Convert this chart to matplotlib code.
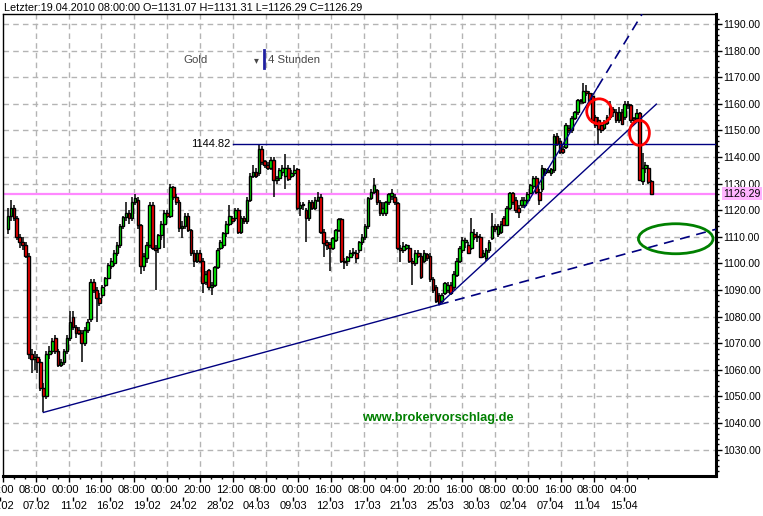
import matplotlib
matplotlib.use("Agg")
import matplotlib.pyplot as plt
from matplotlib.patches import Ellipse
from matplotlib.transforms import blended_transform_factory
import numpy as np

W, H = 763, 516

# 4h candles, gold, 03.02.2010 - 19.04.2010
opens = [1113, 1118, 1121, 1117, 1110, 1108, 1107, 1103, 1066, 1064, 1065, 1063, 1053, 1050, 1066, 1067, 1072, 1067, 1062, 1063,
         1067, 1072, 1080, 1076, 1075, 1074, 1070, 1075, 1079, 1093, 1090, 1087, 1088, 1092, 1094.5, 1099, 1100, 1104, 1107, 1114,
         1117.5, 1119, 1117, 1123, 1124, 1114.5, 1099, 1102, 1107, 1122, 1106, 1106, 1110.7, 1115, 1119, 1118, 1128.7, 1125, 1123, 1113.3,
         1114, 1118, 1112.5, 1104, 1101, 1104, 1101, 1093, 1097.5, 1091, 1092, 1098.6, 1106, 1107, 1111.4, 1115, 1117, 1117, 1120, 1112,
         1117, 1116, 1124, 1133, 1134.4, 1134, 1143, 1138.5, 1137, 1136, 1139, 1131.4, 1132, 1134.5, 1133, 1136, 1133, 1134, 1135.5, 1121,
         1122, 1120, 1117, 1123, 1121, 1124, 1125, 1112, 1108, 1107.5, 1106, 1109, 1112.5, 1116.6, 1101, 1101, 1102.6, 1104, 1104, 1105,
         1108, 1110, 1114, 1124.6, 1127, 1127.6, 1123, 1119, 1119, 1123, 1125.5, 1125, 1122.7, 1106, 1105, 1106, 1106, 1101, 1100, 1104,
         1103, 1101, 1103.5, 1103, 1094, 1091, 1088, 1086, 1089, 1090, 1092, 1091, 1095.7, 1101, 1105, 1108, 1107, 1106, 1111, 1110,
         1110, 1103, 1102, 1105, 1109.6, 1114, 1111, 1112, 1117, 1114.5, 1121, 1126.5, 1124, 1121, 1122, 1122, 1124, 1126.5, 1129, 1132,
         1127, 1128, 1134, 1134.5, 1134, 1135, 1148, 1146, 1143, 1143.7, 1151, 1150, 1154.7, 1157, 1161.4, 1160.7, 1165, 1164, 1163, 1155,
         1154, 1152, 1151, 1153, 1155, 1158, 1157, 1154, 1157, 1155, 1160, 1159.5, 1154.6, 1154.6, 1156.5, 1131, 1136, 1136, 1131.07]
highs = [1121, 1124, 1122, 1118, 1111, 1110, 1108, 1104, 1068, 1067, 1066, 1064, 1055, 1067, 1069, 1072, 1073, 1068, 1064, 1068,
         1073, 1082, 1082, 1077, 1076, 1075, 1076, 1079, 1094, 1094, 1091, 1089, 1092, 1095, 1100, 1102, 1105, 1108, 1115, 1118,
         1123, 1120, 1125, 1126, 1125, 1115, 1104, 1108, 1123, 1123, 1107, 1111, 1116, 1120, 1120, 1130, 1129, 1126, 1124, 1116,
         1119, 1119, 1113, 1105, 1105, 1105, 1102, 1097, 1098, 1093, 1099, 1106, 1109, 1112, 1116, 1122, 1118, 1121, 1121, 1118,
         1118, 1125, 1134, 1137, 1136, 1144.82, 1144, 1139, 1138, 1140, 1140, 1133, 1136, 1137, 1141, 1137, 1135, 1137, 1136, 1123,
         1123, 1121, 1124, 1124, 1125, 1127, 1126, 1113, 1109, 1108, 1110, 1113, 1117, 1117, 1102, 1103, 1105, 1106, 1105, 1108.5,
         1111, 1115, 1125, 1128, 1132, 1128, 1124, 1123, 1123.5, 1126.5, 1128, 1126, 1123, 1107, 1108, 1107.5, 1107, 1102, 1105, 1105,
         1104, 1105, 1104, 1104, 1095, 1092, 1089, 1089, 1093, 1093, 1093, 1097, 1102, 1106.5, 1110, 1109.5, 1108, 1117, 1113, 1112,
         1111, 1105, 1106, 1109, 1119, 1115, 1115, 1116, 1118, 1121.5, 1127, 1127, 1125, 1122, 1125, 1125, 1127, 1130, 1133, 1133,
         1128, 1137, 1136, 1136, 1136, 1148.5, 1149, 1147, 1144, 1153, 1152, 1155.5, 1157.5, 1162, 1162, 1168, 1167, 1165, 1164, 1156,
         1155, 1153, 1154, 1156, 1161, 1159, 1158, 1159, 1158, 1161, 1161, 1160, 1155, 1158, 1157, 1141.5, 1138, 1137, 1131.31]
lows = [1111, 1116, 1116, 1109, 1106, 1105, 1102, 1064, 1059, 1060, 1059, 1052, 1044, 1049, 1064, 1066, 1066, 1061, 1061, 1062,
        1066, 1071, 1075, 1072, 1073, 1063, 1069, 1074, 1078, 1089, 1078, 1084, 1087, 1091, 1094, 1098, 1099, 1103, 1106, 1113,
        1116, 1115, 1116, 1122, 1113, 1096, 1097, 1100, 1106, 1105, 1090, 1104, 1109, 1106, 1117, 1117, 1124, 1122, 1112, 1109.6,
        1113, 1112, 1103, 1098.6, 1100, 1100, 1089, 1092, 1090, 1088, 1091, 1098, 1105, 1106, 1110, 1114, 1115, 1116, 1111, 1111,
        1115, 1115, 1123, 1132, 1132, 1133, 1137, 1136, 1135, 1135, 1125, 1130, 1131, 1133, 1128, 1131, 1132, 1133, 1120, 1118,
        1120, 1108, 1116, 1120, 1120, 1123, 1111, 1102.4, 1105, 1097, 1105, 1108, 1112, 1100, 1098, 1099, 1102, 1103, 1100, 1104,
        1107, 1109, 1113, 1124, 1126, 1122, 1118, 1118, 1118, 1122, 1124, 1122, 1105, 1100.5, 1104, 1105, 1100, 1092, 1099, 1102,
        1094, 1100, 1101, 1093, 1089, 1085, 1084.5, 1085, 1088, 1089, 1088, 1090, 1095, 1100, 1104, 1106, 1103.5, 1105, 1109, 1108,
        1102, 1102, 1101, 1104, 1109, 1112, 1110, 1111, 1114, 1114, 1120, 1122, 1119, 1117, 1121, 1121, 1123, 1126, 1128, 1126,
        1122, 1127, 1133, 1134, 1133, 1134, 1144, 1141, 1141, 1143, 1149, 1149, 1154, 1156, 1160, 1160, 1163, 1160.5, 1153, 1151,
        1144.6, 1149, 1150, 1152, 1154, 1155, 1153, 1153, 1152, 1154, 1158, 1153, 1152, 1154, 1131, 1129.5, 1134, 1130, 1126.29]
closes = [1118, 1121, 1117, 1110, 1108, 1107, 1103, 1066, 1064, 1065, 1063, 1053, 1050, 1066, 1067, 1071, 1067, 1062, 1063, 1067,
          1072, 1078, 1076, 1074, 1074, 1070, 1075, 1078, 1093, 1090, 1087, 1085, 1091, 1094.5, 1099.4, 1101, 1104, 1107, 1114, 1117.5,
          1119, 1117, 1123, 1124.5, 1114.5, 1099, 1103, 1107, 1122, 1106, 1105, 1110.7, 1115, 1119, 1118, 1128.7, 1125, 1123, 1113.3, 1114,
          1118, 1112.5, 1104, 1101, 1104, 1101, 1092.6, 1096, 1091, 1092, 1098.6, 1105, 1108, 1111.4, 1115, 1118, 1116, 1120, 1112, 1117,
          1116, 1124, 1133, 1134.4, 1133, 1143, 1138, 1137, 1136, 1139, 1131.4, 1132, 1135, 1136, 1136, 1131.7, 1134, 1135, 1121, 1122,
          1122, 1117, 1123, 1121, 1124, 1125, 1112, 1107.7, 1107, 1106, 1109.5, 1112.5, 1116.6, 1101, 1100.5, 1102.6, 1104, 1104.5, 1102, 1108,
          1110, 1114, 1124.6, 1127, 1129.5, 1123, 1119, 1121, 1123, 1126, 1126.5, 1123, 1106, 1105, 1106.5, 1107, 1101, 1100, 1104, 1103,
          1095, 1104, 1102, 1094, 1090, 1086, 1085, 1088, 1092.6, 1092, 1089, 1096, 1101, 1105.8, 1109, 1109, 1104, 1112, 1110, 1110.5,
          1102.4, 1104, 1105, 1108, 1114, 1113, 1114, 1115, 1114.5, 1121, 1126.5, 1123, 1120, 1119.5, 1124, 1124, 1126, 1129.5, 1132, 1127,
          1124, 1136, 1135.5, 1135, 1135.5, 1148, 1145, 1142, 1142, 1152, 1150, 1154.7, 1157, 1161.4, 1161, 1165, 1164, 1161, 1154, 1152,
          1150.7, 1150, 1153, 1155, 1158.4, 1157, 1154, 1157, 1152.6, 1160, 1159.5, 1154, 1154, 1156.7, 1131.3, 1136, 1137, 1130.6, 1126.29]

time_labels = ["00:00", "08:00", "00:00", "16:00", "08:00", "00:00", "20:00", "12:00", "08:00", "00:00",
               "16:00", "08:00", "04:00", "20:00", "16:00", "08:00", "00:00", "16:00", "08:00", "04:00"]
date_labels = ["03.02", "07.02", "11.02", "16.02", "19.02", "24.02", "28.02", "04.03", "09.03",
               "12.03", "17.03", "21.03", "25.03", "30.03", "02.04", "07.04", "11.04", "15.04"]

y_ticks = np.arange(1030, 1191, 10)
last_price = 1126.29
resistance = 1144.82
header = "Letzter:19.04.2010 08:00:00 O=1131.07 H=1131.31 L=1126.29 C=1126.29"

plt.rcParams['font.family'] = ['Liberation Sans', 'DejaVu Sans']

o = np.array(opens, dtype=float)
hi = np.array(highs, dtype=float)
lo = np.array(lows, dtype=float)
c = np.array(closes, dtype=float)
n = len(c)
x = np.arange(n)

fig = plt.figure(figsize=(W / 100, H / 100), dpi=100)
ax = fig.add_axes([3 / W, (H - 476) / H, 713 / W, 462 / H])
px_per_bar = 647 / (n - 1)
x_right = n - 1 + 65 / px_per_bar
ax.set_xlim(-0.6, x_right)
ax.set_ylim(1020.1, 1193.8)


def px2x(px):
    # pixel column of the figure -> bar index
    return (px - 5) / px_per_bar


# grid
grid_x = [px2x(33 * k) for k in range(1, 20)]
for gx in grid_x:
    ax.axvline(gx, color='#b4b4b4', lw=1, ls=(0, (4, 3)), zorder=0)
for gy in y_ticks:
    ax.axhline(gy, color='#b4b4b4', lw=1, ls=(0, (4, 3)), zorder=0)

# candles
up = c >= o
ax.vlines(x, lo, hi, color='black', lw=1.1, zorder=3)
body_lo = np.minimum(o, c)
body_h = np.maximum(np.abs(c - o), 0.35)
ax.bar(x, body_h, bottom=body_lo, width=0.9, color=np.where(up, '#00ff00', '#ff0000'),
       edgecolor='black', linewidth=1.0, zorder=4)

# horizontal lines
ax.axhline(last_price, color='#ff88ff', lw=1.6, zorder=2)
ax.plot([px2x(231), x_right], [resistance, resistance], color='#000080', lw=1, zorder=5)
ax.text(px2x(229), resistance, f"{resistance:.2f}", ha='right', va='center', fontsize=8)

# trend lines
navy = '#000080'
i1 = int(np.argmin(lo))
i2 = 100 + int(np.argmin(lo[100:170]))
slope = (lo[i2] - lo[i1]) / (i2 - i1)
ax.plot([i1, i2], [lo[i1], lo[i2]], color=navy, lw=1, zorder=5)
ax.plot([i2, x_right], [lo[i2], lo[i2] + slope * (x_right - i2)], color=navy, lw=1.2, ls=(0, (6, 4)), zorder=5)

ax.plot([i2, px2x(657)], [lo[i2], 1159.9], color=navy, lw=1, zorder=5)

i3 = 175 + int(np.argmin(lo[175:185]))
s3 = (1166.3 - lo[i3]) / (px2x(598) - i3)
ax.plot([i3, px2x(598)], [lo[i3], 1166.3], color=navy, lw=1, zorder=5)
x_top = i3 + (1193.8 - lo[i3]) / s3
ax.plot([px2x(598), x_top], [1166.3, 1193.8], color=navy, lw=1.2, ls=(0, (6, 4)), zorder=5)

# annotations
ax.add_patch(Ellipse((px2x(599.5), 1157.2), 25 / px_per_bar, 25 / 2.66, fill=False, ec='red', lw=2, zorder=6))
ax.add_patch(Ellipse((px2x(640), 1149.1), 20 / px_per_bar, 25 / 2.66, fill=False, ec='red', lw=2, zorder=6))
ax.add_patch(Ellipse((px2x(676.5), 1109.3), 75 / px_per_bar, 30 / 2.66, fill=False, ec='green', lw=2, zorder=6))

ax.text(px2x(437.5), 1041.9, "www.brokervorschlag.de", ha='center', va='center',
        fontsize=9.2, fontweight='bold', color='#008000')

# right axis
ax.yaxis.tick_right()
ax.set_yticks(y_ticks)
ax.set_yticklabels([f"{v:.2f}" for v in y_ticks], fontsize=7.6)
ax.set_yticks(np.arange(1022, 1194, 2), minor=True)
ax.tick_params(axis='y', which='major', length=4, width=1, pad=1.5)
ax.tick_params(axis='y', which='minor', length=2.5, width=1)
ax.text(1.0 + 7 / 713, last_price, f"{last_price:.2f}", transform=blended_transform_factory(ax.transAxes, ax.transData),
        ha='left', va='center', fontsize=7.6, bbox=dict(facecolor='#ffb4ff', edgecolor='none', pad=0.8), zorder=7)

# bottom axis
ax.set_xticks([px2x(11 * k) for k in range(0, 60)], minor=True)
ax.set_xticks([px2x(33 * k) for k in range(0, 20)])
ax.set_xticklabels([])
ax.tick_params(axis='x', which='major', length=4, width=1)
ax.tick_params(axis='x', which='minor', length=2.5, width=1)
tr = blended_transform_factory(ax.transData, fig.transFigure)
time_pos = [px2x(33 * k - 3) for k in range(len(time_labels))]
for p, lab in zip(time_pos, time_labels):
    ax.text(p, 1 - 490 / H, lab, transform=tr, ha='center', va='center', fontsize=8, clip_on=False)
date_pos = np.linspace(time_pos[0], time_pos[-1], len(date_labels))
for p, lab in zip(date_pos, date_labels):
    ax.text(p, 1 - 506 / H, lab, transform=tr, ha='center', va='center', fontsize=8, clip_on=False)
ax.vlines(date_pos, 1 - 501 / H, 1 - 497 / H, transform=tr, color='black', lw=1, clip_on=False)

for s in ['left', 'top']:
    ax.spines[s].set_linewidth(1)
for s in ['right', 'bottom']:
    ax.spines[s].set_linewidth(2.2)

fig.text(4 / W, 1 - 8 / H, header, ha='left', va='center', fontsize=7.8)
fig.text(183 / W, 1 - 60 / H, "Gold", ha='left', va='center', fontsize=8.2, color='#484848')
fig.text(256 / W, 1 - 60 / H, "\u25be", ha='center', va='center', fontsize=7, color='#484848')
fig.add_artist(plt.Line2D([264 / W, 264 / W], [1 - 50 / H, 1 - 68 / H], color='#2020a0', lw=2))
fig.text(268 / W, 1 - 60 / H, "4 Stunden", ha='left', va='center', fontsize=8.2, color='#484848')

fig.savefig("out.png", dpi=100)
